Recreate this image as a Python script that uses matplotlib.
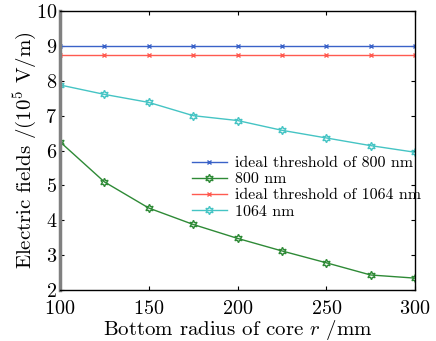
import matplotlib
matplotlib.use("Agg")
import matplotlib.pyplot as plt

radius = [100, 125, 150, 175, 200, 225, 250, 275, 300]
thr_800 = [9.0] * 9
field_800 = [6.25, 5.1, 4.35, 3.88, 3.48, 3.12, 2.78, 2.43, 2.34]
thr_1064 = [8.75] * 9
field_1064 = [7.88, 7.61, 7.38, 7.0, 6.86, 6.58, 6.36, 6.14, 5.95]
xticks = [100, 150, 200, 250, 300]
yticks = [2, 3, 4, 5, 6, 7, 8, 9, 10]

plt.rcParams['font.family'] = ['cmr10', 'DejaVu Serif']
plt.rcParams['mathtext.fontset'] = 'cm'
plt.rcParams['axes.formatter.use_mathtext'] = True

fig = plt.figure(figsize=(4.36, 3.41), dpi=100)
ax = fig.add_axes([0.1376, 0.1496, 0.8144, 0.818])

star = (6, 1, 0)
ax.plot(radius, thr_800, color='#3a62c8', lw=1.0, marker='x', ms=3.5, mew=1.0,
        label='ideal threshold of 800 nm')
ax.plot(radius, field_800, color='#2e8a36', lw=1.0, marker=star, ms=6, mfc='none', mew=1.0,
        label='800 nm')
ax.plot(radius, thr_1064, color='#ff5a50', lw=1.0, marker='x', ms=3.5, mew=1.0,
        label='ideal threshold of 1064 nm')
ax.plot(radius, field_1064, color='#45c4c4', lw=1.0, marker=star, ms=6, mfc='none', mew=1.0,
        label='1064 nm')

ax.set_xlim(100, 300)
ax.set_ylim(2, 10)
ax.set_xticks(xticks)
ax.set_yticks(yticks)
ax.tick_params(direction='in', top=True, right=True, labelsize=14.5, length=3)
ax.tick_params(axis='x', pad=7.5)
ax.tick_params(axis='y', pad=2)
ax.spines['left'].set_color('#808080')
ax.spines['left'].set_linewidth(2.5)
for s in ['top', 'right', 'bottom']:
    ax.spines[s].set_linewidth(1.0)

ax.set_xlabel('Bottom radius of core $r$ /mm', fontsize=15, labelpad=-0.5)
ax.set_ylabel('Electric fields /(10$^5$ V/m)', fontsize=15, labelpad=-2)

ax.legend(loc='upper left', bbox_to_anchor=(0.34, 0.52), frameon=False, fontsize=11.5,
          handlelength=2.2, handletextpad=0.5, labelspacing=0.12, borderpad=0.2)

fig.savefig('out.png', dpi=100)
